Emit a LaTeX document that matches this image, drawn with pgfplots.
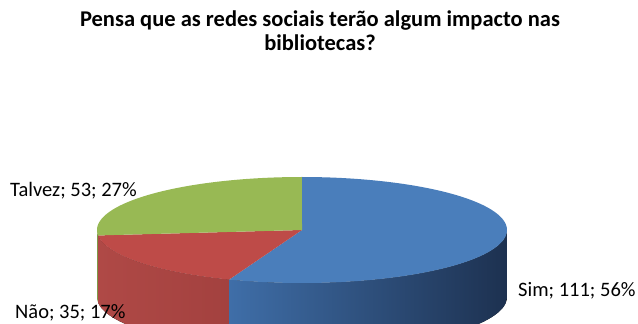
\documentclass[border=0pt]{standalone}
\usepackage{pgfplots}
\pgfplotsset{compat=1.18}
\usepackage{pgfplotstable}
\usepgfplotslibrary{fillbetween}
\usepackage{fontspec}
\setmainfont{Carlito}

\definecolor{topblue}{HTML}{4A7EBB}
\definecolor{topred}{HTML}{BE4B48}
\definecolor{topgreen}{HTML}{98B954}
\definecolor{sideblueL}{HTML}{3F6EA8}
\definecolor{sideblueR}{HTML}{1D3150}
\definecolor{sideredL}{HTML}{AF4946}
\definecolor{sideredR}{HTML}{A3413F}
\definecolor{sidegreen}{HTML}{7F9A48}

\pgfplotstableread[col sep=comma]{
label,value
Sim,111
Nao,35
Talvez,53
}\piedata

\pgfplotstablegetelem{0}{value}\of\piedata \let\vA\pgfplotsretval
\pgfplotstablegetelem{1}{value}\of\piedata \let\vB\pgfplotsretval
\pgfplotstablegetelem{2}{value}\of\piedata \let\vC\pgfplotsretval
\pgfmathsetmacro\tot{\vA+\vB+\vC}
\pgfmathsetmacro\aA{90}
\pgfmathsetmacro\aB{90-360*(\vA/\tot)}
\pgfmathsetmacro\aC{\aB-360*(\vB/\tot)}
\pgfmathsetmacro\aD{\aC-360*(\vC/\tot)}
\def\cx{302}
\def\cy{94}
\def\ra{205}
\def\rb{53}
\def\dep{67}

\begin{document}
\begin{tikzpicture}
\begin{axis}[name=ax, width=638pt, height=324pt, scale only axis,
  xmin=0, xmax=638, ymin=0, ymax=324, axis lines=none, clip=true]
% sides
\addplot[name path=gt, draw=none, domain=-180:\aC, samples=10] ({\cx+\ra*cos(x)},{\cy+\rb*sin(x)});
\addplot[name path=gb, draw=none, domain=-180:\aC, samples=10] ({\cx+\ra*cos(x)},{\cy+\rb*sin(x)-\dep});
\addplot[fill=sidegreen, draw=none] fill between[of=gt and gb];
\addplot[name path=rt, draw=none, domain=\aC:\aB, samples=60] ({\cx+\ra*cos(x)},{\cy+\rb*sin(x)});
\addplot[name path=rb, draw=none, domain=\aC:\aB, samples=60] ({\cx+\ra*cos(x)},{\cy+\rb*sin(x)-\dep});
\addplot[left color=sideredL, right color=sideredR, draw=none] fill between[of=rt and rb];
\addplot[name path=bt, draw=none, domain=\aB:0, samples=100] ({\cx+\ra*cos(x)},{\cy+\rb*sin(x)});
\addplot[name path=bb, draw=none, domain=\aB:0, samples=100] ({\cx+\ra*cos(x)},{\cy+\rb*sin(x)-\dep});
\addplot[left color=sideblueL, right color=sideblueR, draw=none] fill between[of=bt and bb];
% top faces
\addplot[fill=topblue, draw=none, domain=\aB:\aA, samples=150] ({\cx+\ra*cos(x)},{\cy+\rb*sin(x)}) -- (axis cs:\cx,\cy) -- cycle;
\addplot[fill=topred, draw=none, domain=\aC:\aB, samples=60] ({\cx+\ra*cos(x)},{\cy+\rb*sin(x)}) -- (axis cs:\cx,\cy) -- cycle;
\addplot[fill=topgreen, draw=none, domain=\aD:\aC, samples=90] ({\cx+\ra*cos(x)},{\cy+\rb*sin(x)}) -- (axis cs:\cx,\cy) -- cycle;
% texts
\node[anchor=base, font=\bfseries\fontsize{22.5}{27}\selectfont, inner sep=0pt] at (axis cs:320,297) {Pensa que as redes sociais terão algum impacto nas};
\node[anchor=base, font=\bfseries\fontsize{22.5}{27}\selectfont, inner sep=0pt] at (axis cs:320,273) {bibliotecas?};
\node[anchor=base west, font=\fontsize{20.5}{24}\selectfont, inner sep=0pt] at (axis cs:10,127) {Talvez; 53; 27\%};
\node[anchor=base west, font=\fontsize{20.5}{24}\selectfont, inner sep=0pt] at (axis cs:15,5) {Não; 35; 17\%};
\node[anchor=base west, font=\fontsize{20.5}{24}\selectfont, inner sep=0pt] at (axis cs:518,27) {Sim; 111; 56\%};
\end{axis}
\pgfresetboundingbox
\useasboundingbox (ax.south west) rectangle (ax.north east);
\end{tikzpicture}
\end{document}
